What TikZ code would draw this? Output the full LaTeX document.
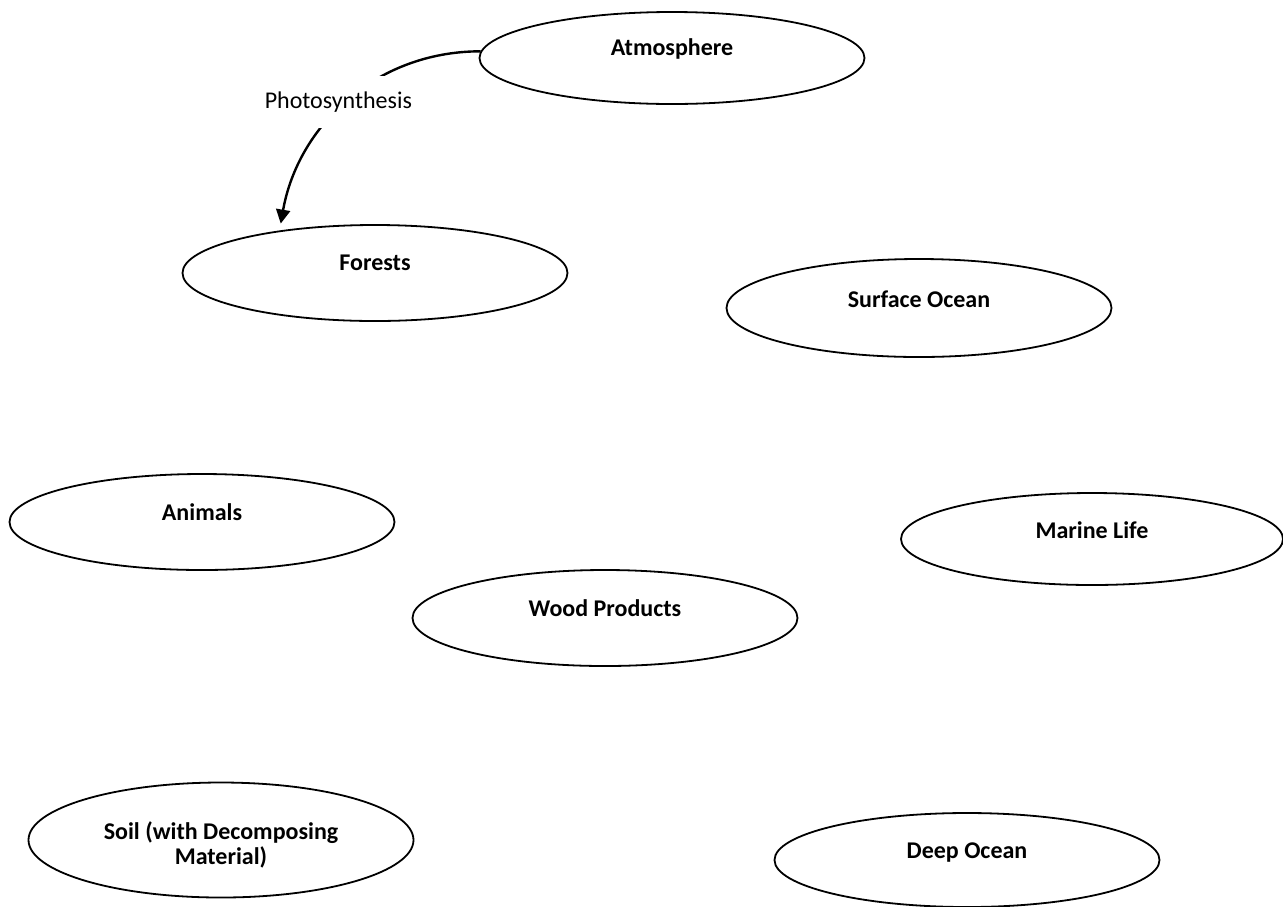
\documentclass[tikz,border=0pt]{standalone}
\usepackage{fontspec}
\setmainfont{Carlito}
\usetikzlibrary{shapes.geometric,arrows.meta}
\begin{document}
\begin{tikzpicture}[
            x=0.5pt,
            y=-0.5pt,
            pool/.style={draw,ellipse,line width=0.9pt,minimum width=192.5pt,minimum height=48pt,inner sep=0pt},
            pooltext/.style={font=\bfseries,align=center,yshift=4.5pt}
        ]
            \useasboundingbox (0,0) rectangle (1283,906);
            \fontsize{12}{12.5}\selectfont

            \node [pool,minimum height=46pt,label={[pooltext]center:Atmosphere}] (atm) at (672,58) {};
            \node [pool,label={[pooltext,yshift=0.5pt]center:Forests}] (forests) at (375,273) {};
            \node [pool,minimum height=49pt,label={[pooltext]center:Surface Ocean}] (surface) at (919,308) {};
            \node [pool,label={[pooltext,yshift=0.5pt]center:Animals}] (animals) at (202,522) {};
            \node [pool,minimum height=46pt,minimum width=191pt,label={[pooltext]center:Marine Life}] (marine) at (1092,539) {};
            \node [pool,label={[pooltext,yshift=0.5pt]center:Wood Products}] (wood) at (605,618) {};
            \node [pool,minimum height=57.5pt,label={[pooltext,yshift=-7pt]center:Soil (with Decomposing\\Material)}] (soil) at (221,840) {};
            \node [pool,minimum height=47pt,label={[pooltext,yshift=-0.5pt]center:Deep Ocean}] (deep) at (967,860) {};

            \draw [line width=1.2pt,-{Triangle[length=7pt,width=7pt]},shorten >=3.5pt]
                (atm.178) to[out=180,in=80]
                node [fill=white,inner xsep=2pt,inner ysep=8pt,xshift=-4.5pt] (photo) {Photosynthesis}
                (forests.156);
        \end{tikzpicture}
\end{document}
